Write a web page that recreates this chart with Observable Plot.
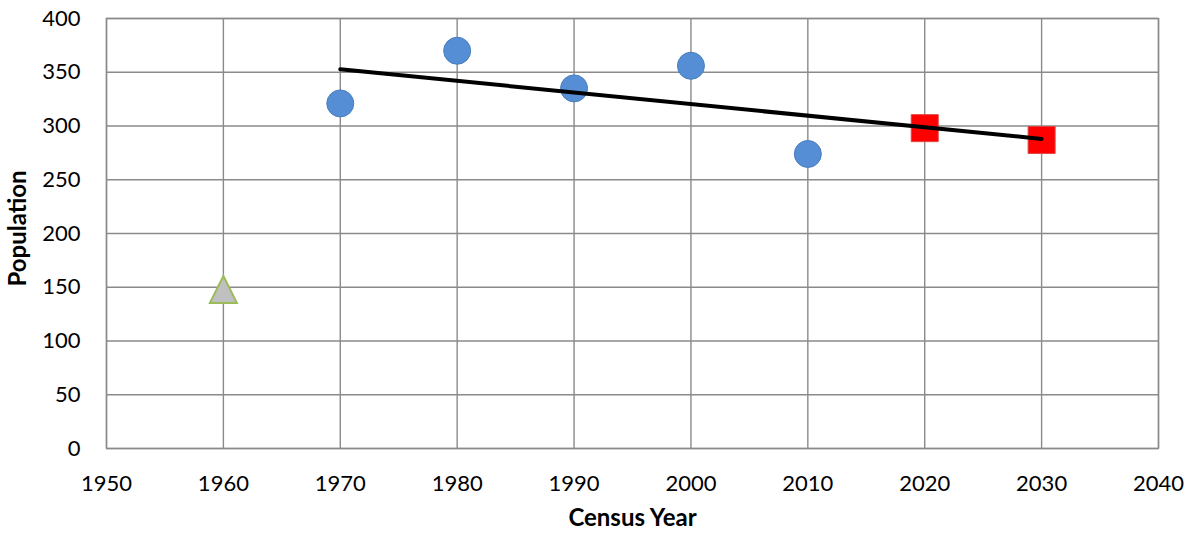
<!DOCTYPE html>
<html>
<head>
<meta charset="utf-8">
<script src="https://cdn.jsdelivr.net/npm/d3@7"></script>
<script src="https://cdn.jsdelivr.net/npm/@observablehq/plot@0.6"></script>
<style>
  html, body { margin: 0; padding: 0; background: #fff; }
  #chart svg { display: block; }
</style>
</head>
<body>
<div id="chart"></div>
<script>
// Census data (blue circles)
const censusYears = [1970, 1980, 1990, 2000, 2010];
const censusValues = [321, 370, 335, 356, 274];
// Earlier value (grey triangle)
const earlyYears = [1960];
const earlyValues = [148];
// Projections (red squares)
const projYears = [2020, 2030];
const projValues = [298, 287];
// Trend line endpoints
const trendYears = [1970, 2030];
const trendValues = [352.8, 288];
// Axis ticks
const xTicks = [1950, 1960, 1970, 1980, 1990, 2000, 2010, 2020, 2030, 2040];
const yTicks = [0, 50, 100, 150, 200, 250, 300, 350, 400];

const toRows = (xs, ys) => xs.map((x, i) => ({x, y: ys[i]}));
const census = toRows(censusYears, censusValues);
const early = toRows(earlyYears, earlyValues);
const proj = toRows(projYears, projValues);
const trend = toRows(trendYears, trendValues);

// Isosceles triangle centred on its bounding box (width = height)
const triSymbol = {
  draw(context, size) {
    const half = Math.sqrt(size) / 2;
    context.moveTo(0, -half);
    context.lineTo(half, half);
    context.lineTo(-half, half);
    context.closePath();
  }
};
const squareSymbol = {
  draw(context, size) {
    const half = Math.sqrt(size) / 2;
    context.rect(-half, -half, half * 2, half * 2);
  }
};
// side s => size = s*s ; Plot uses size = PI r^2 => r = s / sqrt(PI)
const rFor = s => s / Math.sqrt(Math.PI);

const gridColor = "#8a8a8a";
const font = "Lato, 'Open Sans', sans-serif";

const chart = Plot.plot({
  width: 1196,
  height: 540,
  marginLeft: 106,
  marginRight: 38,
  marginTop: 18,
  marginBottom: 92,
  style: {fontFamily: font, background: "#fff", color: "#000"},
  x: {domain: [1950, 2040]},
  y: {domain: [0, 400]},
  marks: [
    Plot.gridX(xTicks, {stroke: gridColor, strokeOpacity: 1, strokeWidth: 1.4}),
    Plot.gridY(yTicks, {stroke: gridColor, strokeOpacity: 1, strokeWidth: 1.4}),
    Plot.frame({stroke: gridColor, strokeWidth: 1.4}),
    Plot.axisX({ticks: xTicks, tickFormat: "d", tickSize: 0, tickPadding: 27, fontSize: 22, label: null}),
    Plot.axisY({ticks: yTicks, tickSize: 0, tickPadding: 26, fontSize: 22, label: null}),
    Plot.dot(census, {x: "x", y: "y", r: 13.5, fill: "#558ED5", stroke: "#4A7EBB", strokeWidth: 1, symbol: "circle"}),
    Plot.dot(early, {x: "x", y: "y", r: rFor(27), fill: "#C0C0C0", stroke: "#9BBB59", strokeWidth: 2, symbol: triSymbol}),
    Plot.dot(proj, {x: "x", y: "y", r: rFor(27), fill: "#FF0000", stroke: "#E04545", strokeWidth: 1, symbol: squareSymbol}),
    Plot.line(trend, {x: "x", y: "y", stroke: "#000", strokeWidth: 4}),
    Plot.text(["Census Year"], {frameAnchor: "bottom", dy: 77, fontWeight: "bold", fontSize: 24, fill: "#000"}),
    Plot.text(["Population"], {frameAnchor: "left", textAnchor: "middle", dx: -88, dy: -5, rotate: -90, fontWeight: "bold", fontSize: 24, fill: "#000"})
  ]
});
document.getElementById("chart").append(chart);
</script>
</body>
</html>
